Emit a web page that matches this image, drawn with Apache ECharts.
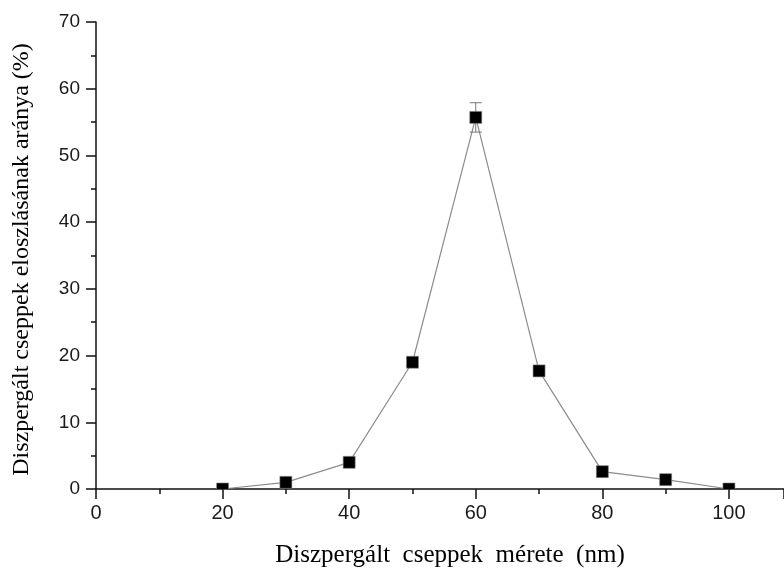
<!DOCTYPE html>
<html>
<head>
<meta charset="utf-8">
<script src="https://cdn.jsdelivr.net/npm/echarts@6/dist/echarts.min.js"></script>
<style>html,body{margin:0;padding:0;background:#fff;}#c{width:784px;height:573px;}</style>
</head>
<body>
<div id="c"></div>
<script>
var sizes = [20, 30, 40, 50, 60, 70, 80, 90, 100];
var shares = [0, 1.0, 4.0, 19.0, 55.7, 17.7, 2.6, 1.4, 0];
var errors = [0, 0.3, 0.4, 0.6, 2.2, 0.7, 0.4, 0.5, 0];
var xTicks = [0, 20, 40, 60, 80, 100];
var yTicks = [0, 10, 20, 30, 40, 50, 60, 70];

var points = sizes.map(function (s, i) { return [s, shares[i]]; });
var errData = sizes.map(function (s, i) { return [s, shares[i] - errors[i], shares[i] + errors[i]]; });

var chart = echarts.init(document.getElementById('c'));
var axisCommon = {
  axisLine: { show: true, onZero: false, lineStyle: { color: '#111', width: 1.5 } },
  axisTick: { show: true, inside: false, length: 10, lineStyle: { color: '#111', width: 1.5 } },
  minorTick: { show: true, splitNumber: 2, length: 5, lineStyle: { color: '#111', width: 1.5 } },
  splitLine: { show: false },
  axisLabel: { color: '#1a1a1a', fontFamily: 'Liberation Sans, Arial, sans-serif', fontSize: 19 },
  nameTextStyle: { color: '#000', fontFamily: 'Liberation Serif, Times New Roman, serif', fontSize: 24 }
};
chart.setOption({
  animation: false,
  backgroundColor: '#fff',
  grid: { left: 96, top: 22, bottom: 83, right: 0, containLabel: false },
  xAxis: Object.assign({}, axisCommon, {
    type: 'value', min: 0, max: 108.7, interval: 20,
    name: 'Diszpergált  cseppek  mérete  (nm)', nameLocation: 'middle', nameGap: 54,
    nameTextStyle: Object.assign({}, axisCommon.nameTextStyle, { fontSize: 25, padding: [0, 0, 0, 20] }),
    axisLabel: Object.assign({}, axisCommon.axisLabel, {
      margin: 14, showMaxLabel: false, fontSize: 20,
      formatter: function (v) { return xTicks.indexOf(v) >= 0 ? String(v) : ''; }
    })
  }),
  yAxis: Object.assign({}, axisCommon, {
    type: 'value', min: 0, max: 70, interval: 10,
    name: 'Diszpergált cseppek eloszlásának aránya (%)', nameLocation: 'middle', nameGap: 62,
    nameTextStyle: Object.assign({}, axisCommon.nameTextStyle, { padding: [0, 8, 0, 0] }),
    axisLabel: Object.assign({}, axisCommon.axisLabel, {
      margin: 16,
      formatter: function (v) { return yTicks.indexOf(v) >= 0 ? String(v) : ''; }
    })
  }),
  series: [
    {
      type: 'line', data: points, showSymbol: false, symbol: 'none',
      lineStyle: { color: '#8c8c8c', width: 1.2 }, z: 2
    },
    {
      type: 'custom', data: errData, clip: true, z: 3,
      renderItem: function (params, api) {
        var x = api.value(0);
        var lo = api.coord([x, api.value(1)]);
        var hi = api.coord([x, api.value(2)]);
        var hw = 6;
        var st = { stroke: '#777', lineWidth: 1, fill: null };
        return {
          type: 'group',
          children: [
            { type: 'line', shape: { x1: hi[0], y1: hi[1], x2: lo[0], y2: lo[1] }, style: st },
            { type: 'line', shape: { x1: hi[0] - hw, y1: hi[1], x2: hi[0] + hw, y2: hi[1] }, style: st },
            { type: 'line', shape: { x1: lo[0] - hw, y1: lo[1], x2: lo[0] + hw, y2: lo[1] }, style: st }
          ]
        };
      }
    },
    {
      type: 'custom', data: points, clip: true, z: 4,
      renderItem: function (params, api) {
        var c = api.coord([api.value(0), api.value(1)]);
        var s = 12;
        return {
          type: 'rect',
          shape: { x: c[0] - s / 2, y: c[1] - s / 2, width: s, height: s },
          style: { fill: '#000', stroke: '#888', lineWidth: 0.6 }
        };
      }
    }
  ]
});
</script>
</body>
</html>
